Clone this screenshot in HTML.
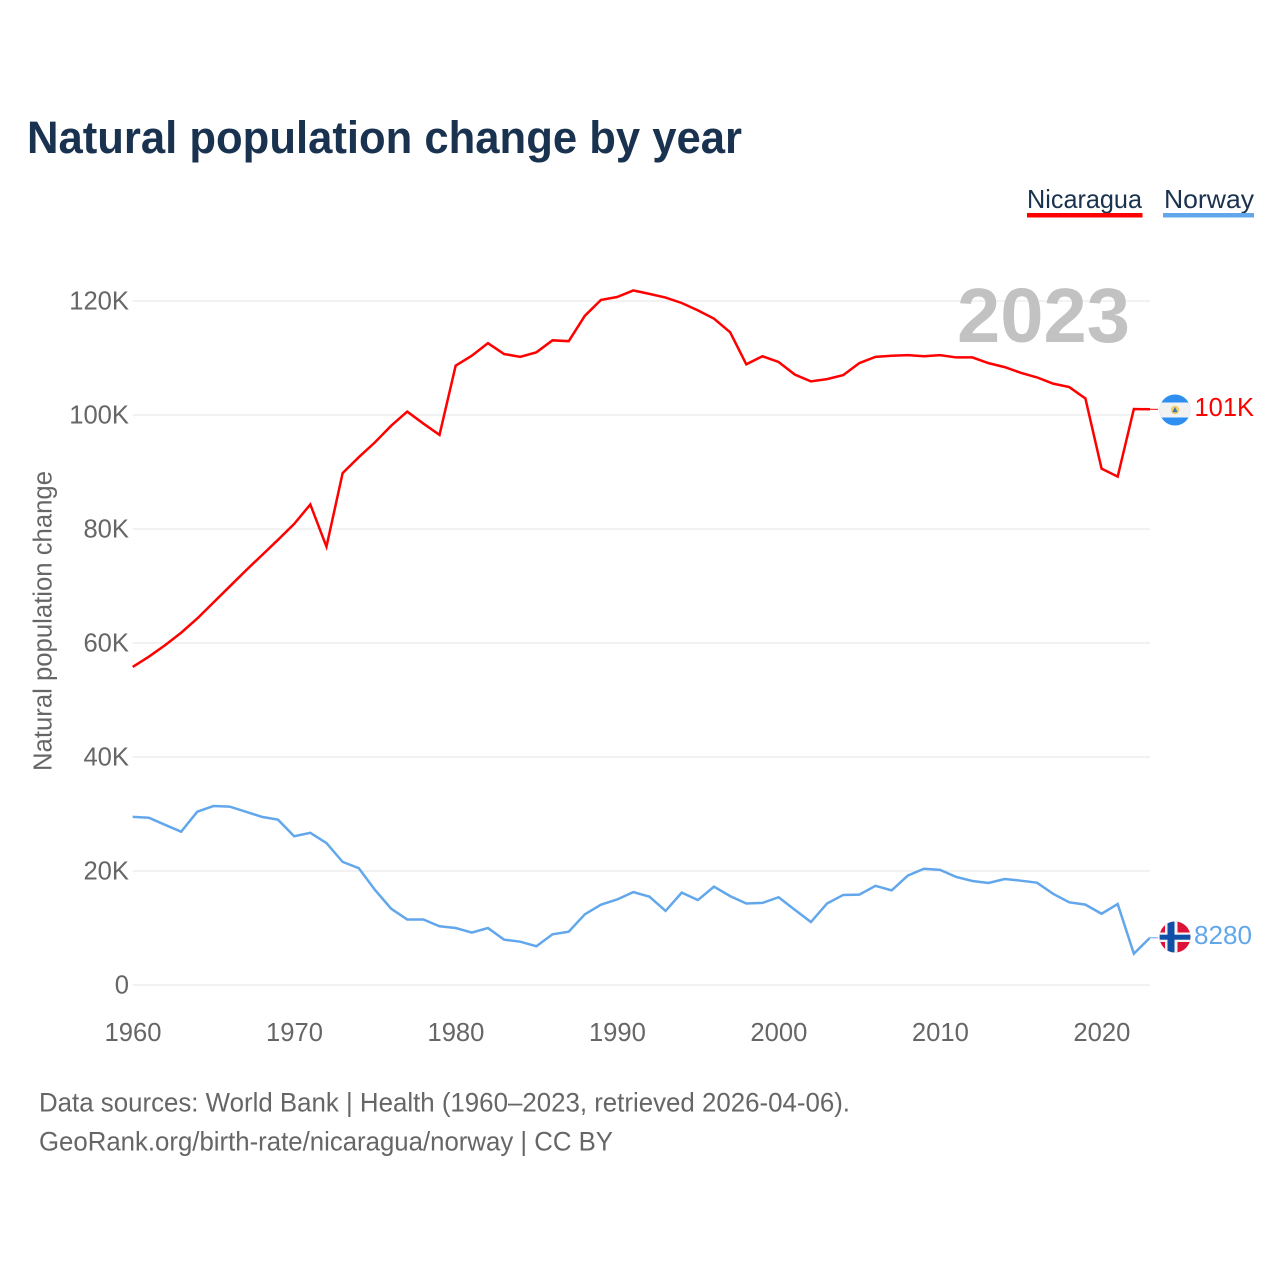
<!DOCTYPE html>
<html lang="en">
<head>
<meta charset="utf-8">
<title>Natural population change by year</title>
<style>
html,body{margin:0;padding:0;background:#fff;}
svg{display:block;font-family:"Liberation Sans",sans-serif;}
</style>
</head>
<body>
<svg id="chart" xmlns="http://www.w3.org/2000/svg" width="1280" height="1280" viewBox="0 0 1280 1280">
  <defs>
    <clipPath id="plot-clip"><rect x="120" y="260" width="1030" height="740"></rect></clipPath>
    <clipPath id="flag-ni-clip"><circle cx="1175" cy="410" r="15.5"></circle></clipPath>
    <clipPath id="flag-no-clip"><circle cx="1175" cy="937" r="15.5"></circle></clipPath>
  </defs>
  <rect x="0" y="0" width="1280" height="1280" fill="#fff"></rect>
  <text x="27" y="153" font-size="45" font-weight="700" fill="#18324f" textLength="715" lengthAdjust="spacingAndGlyphs">Natural population change by year</text>

  <g>
    <text x="1027" y="208" font-size="26" fill="#18324f" textLength="115" lengthAdjust="spacingAndGlyphs">Nicaragua</text>
    <rect x="1027" y="213" width="115.500" height="4.500" fill="#ff0000"></rect>
  </g>
  <g>
    <text x="1164" y="208" font-size="26" fill="#18324f" textLength="90" lengthAdjust="spacingAndGlyphs">Norway</text>
    <rect x="1163" y="213" width="91" height="4.500" fill="#62a7ec"></rect>
  </g>

  <g id="grid"></g>
  <g id="y-ticks"></g>
  <g id="x-ticks"></g>
  <text transform="translate(51.500 621) rotate(-90)" text-anchor="middle" font-size="25.500" fill="#666" textLength="300" lengthAdjust="spacingAndGlyphs">Natural population change</text>

  <text x="957" y="342" font-size="77" font-weight="700" fill="#c2c2c2" textLength="173" lengthAdjust="spacingAndGlyphs">2023</text>

  <g id="series"></g>

  <g clip-path="url(#flag-ni-clip)">
    <rect x="1159" y="394" width="32" height="32" fill="#2f8ff0"></rect>
    <rect x="1159" y="402.500" width="32" height="15" fill="#f2f2f2"></rect>
    <circle cx="1175" cy="410" r="4.200" fill="#f2cf63"></circle>
    <path d="M1172.300 412.300 L1175 407 L1177.700 412.300 Z" fill="#3a78b5"></path>
  </g>
  <g clip-path="url(#flag-no-clip)">
    <rect x="1159" y="921" width="32" height="32" fill="#dc1238"></rect>
    <rect x="1165" y="921" width="12.500" height="32" fill="#f4f4f4"></rect>
    <rect x="1159" y="932.500" width="32" height="9.500" fill="#f4f4f4"></rect>
    <rect x="1167.500" y="921" width="7" height="32" fill="#0f4fa8"></rect>
    <rect x="1159" y="934.700" width="32" height="5" fill="#0f4fa8"></rect>
  </g>
  <text x="1194.500" y="416" font-size="26" fill="#ff0000" textLength="59.500" lengthAdjust="spacingAndGlyphs">101K</text>
  <text x="1194" y="944" font-size="26" fill="#62a7ec" textLength="58" lengthAdjust="spacingAndGlyphs">8280</text>

  <text x="39" y="1111.500" font-size="27" fill="#666" textLength="811" lengthAdjust="spacingAndGlyphs">Data sources: World Bank | Health (1960–2023, retrieved 2026-04-06).</text>
  <text x="39" y="1150.500" font-size="27" fill="#666" textLength="574" lengthAdjust="spacingAndGlyphs">GeoRank.org/birth-rate/nicaragua/norway | CC BY</text>
</svg>
<script>
const years = [1960,1961,1962,1963,1964,1965,1966,1967,1968,1969,1970,1971,1972,1973,1974,1975,1976,1977,1978,1979,1980,1981,1982,1983,1984,1985,1986,1987,1988,1989,1990,1991,1992,1993,1994,1995,1996,1997,1998,1999,2000,2001,2002,2003,2004,2005,2006,2007,2008,2009,2010,2011,2012,2013,2014,2015,2016,2017,2018,2019,2020,2021,2022,2023];
const nicaraguaValues = [55800,57600,59600,61800,64300,67100,69900,72700,75400,78100,80900,84300,76900,89800,92600,95200,98100,100600,98500,96500,108650,110400,112600,110700,110200,111000,113100,112950,117400,120200,120700,121850,121250,120600,119650,118350,116900,114500,108900,110300,109300,107100,105900,106300,107000,109100,110200,110400,110500,110300,110500,110100,110100,109100,108400,107400,106600,105500,104900,102900,90600,89200,101050,101000];
const norwayValues = [29500,29350,28100,26900,30400,31400,31300,30400,29500,29000,26100,26700,24900,21600,20500,16700,13400,11500,11500,10300,10000,9200,10000,7950,7600,6800,8900,9350,12400,14100,15000,16300,15500,13000,16200,14900,17250,15600,14300,14400,15400,13200,11050,14300,15800,15850,17400,16600,19200,20400,20200,18950,18250,17900,18600,18300,17950,16000,14500,14100,12500,14200,5500,8280];
const yTickValues = [0,20000,40000,60000,80000,100000,120000];
const yTickLabels = ["0","20K","40K","60K","80K","100K","120K"];
const xTickValues = [1960,1970,1980,1990,2000,2010,2020];
const xTickLabels = ["1960","1970","1980","1990","2000","2010","2020"];

const NS = "http://www.w3.org/2000/svg";
function xScale(year){ return 132.7 + (year - 1960) * (1150 - 132.7) / 63; }
function yScale(value){ return 985 - value * (985 - 301) / 120000; }
function linePoints(values){
  return values.map(function(v,i){ return xScale(years[i]).toFixed(2) + "," + yScale(v).toFixed(2); }).join(" ");
}

const grid = document.getElementById("grid");
const yTicks = document.getElementById("y-ticks");
const xTicks = document.getElementById("x-ticks");
const seriesGroup = document.getElementById("series");

yTickValues.forEach(function(v,i){
  const line = document.createElementNS(NS,"line");
  
  
  line.setAttribute("x1", xScale(1960));
  line.setAttribute("x2", xScale(2023));
  line.setAttribute("y1", yScale(v));
  line.setAttribute("y2", yScale(v));
  line.setAttribute("stroke", "#e9e9e9");
  line.setAttribute("stroke-width", "1.300");
  grid.appendChild(line);

  const label = document.createElementNS(NS,"text");
  
  
  label.setAttribute("x", 129);
  label.setAttribute("y", yScale(v) + 8.5);
  label.setAttribute("text-anchor", "end");
  label.setAttribute("font-size", "25.600");
  label.setAttribute("fill", "#666");
  label.textContent = yTickLabels[i];
  yTicks.appendChild(label);
});

xTickValues.forEach(function(v,i){
  const label = document.createElementNS(NS,"text");
  
  
  label.setAttribute("x", xScale(v) + 0.3);
  label.setAttribute("y", 1041);
  label.setAttribute("text-anchor", "middle");
  label.setAttribute("font-size", "25.600");
  label.setAttribute("fill", "#666");
  label.textContent = xTickLabels[i];
  xTicks.appendChild(label);
});

const nicaraguaLine = document.createElementNS(NS,"polyline");


nicaraguaLine.setAttribute("points", linePoints(nicaraguaValues));
nicaraguaLine.setAttribute("fill", "none");
nicaraguaLine.setAttribute("stroke", "#ff0000");
nicaraguaLine.setAttribute("stroke-width", "2.500");
nicaraguaLine.setAttribute("stroke-linejoin", "miter");
nicaraguaLine.setAttribute("clip-path", "url(#plot-clip)");
seriesGroup.appendChild(nicaraguaLine);

const norwayLine = document.createElementNS(NS,"polyline");


norwayLine.setAttribute("points", linePoints(norwayValues));
norwayLine.setAttribute("fill", "none");
norwayLine.setAttribute("stroke", "#62a7ec");
norwayLine.setAttribute("stroke-width", "2.500");
norwayLine.setAttribute("stroke-linejoin", "miter");
norwayLine.setAttribute("clip-path", "url(#plot-clip)");
seriesGroup.appendChild(norwayLine);

const nicaraguaConnector = document.createElementNS(NS,"line");


nicaraguaConnector.setAttribute("x1", xScale(2023));
nicaraguaConnector.setAttribute("x2", 1158);
nicaraguaConnector.setAttribute("y1", yScale(nicaraguaValues[nicaraguaValues.length - 1]));
nicaraguaConnector.setAttribute("y2", yScale(nicaraguaValues[nicaraguaValues.length - 1]));
nicaraguaConnector.setAttribute("stroke", "#ff0000");
nicaraguaConnector.setAttribute("stroke-width", "1");
seriesGroup.appendChild(nicaraguaConnector);

const norwayConnector = document.createElementNS(NS,"line");


norwayConnector.setAttribute("x1", xScale(2023));
norwayConnector.setAttribute("x2", 1158);
norwayConnector.setAttribute("y1", yScale(norwayValues[norwayValues.length - 1]));
norwayConnector.setAttribute("y2", yScale(norwayValues[norwayValues.length - 1]));
norwayConnector.setAttribute("stroke", "#62a7ec");
norwayConnector.setAttribute("stroke-width", "1");
seriesGroup.appendChild(norwayConnector);
</script>
</body>
</html>
